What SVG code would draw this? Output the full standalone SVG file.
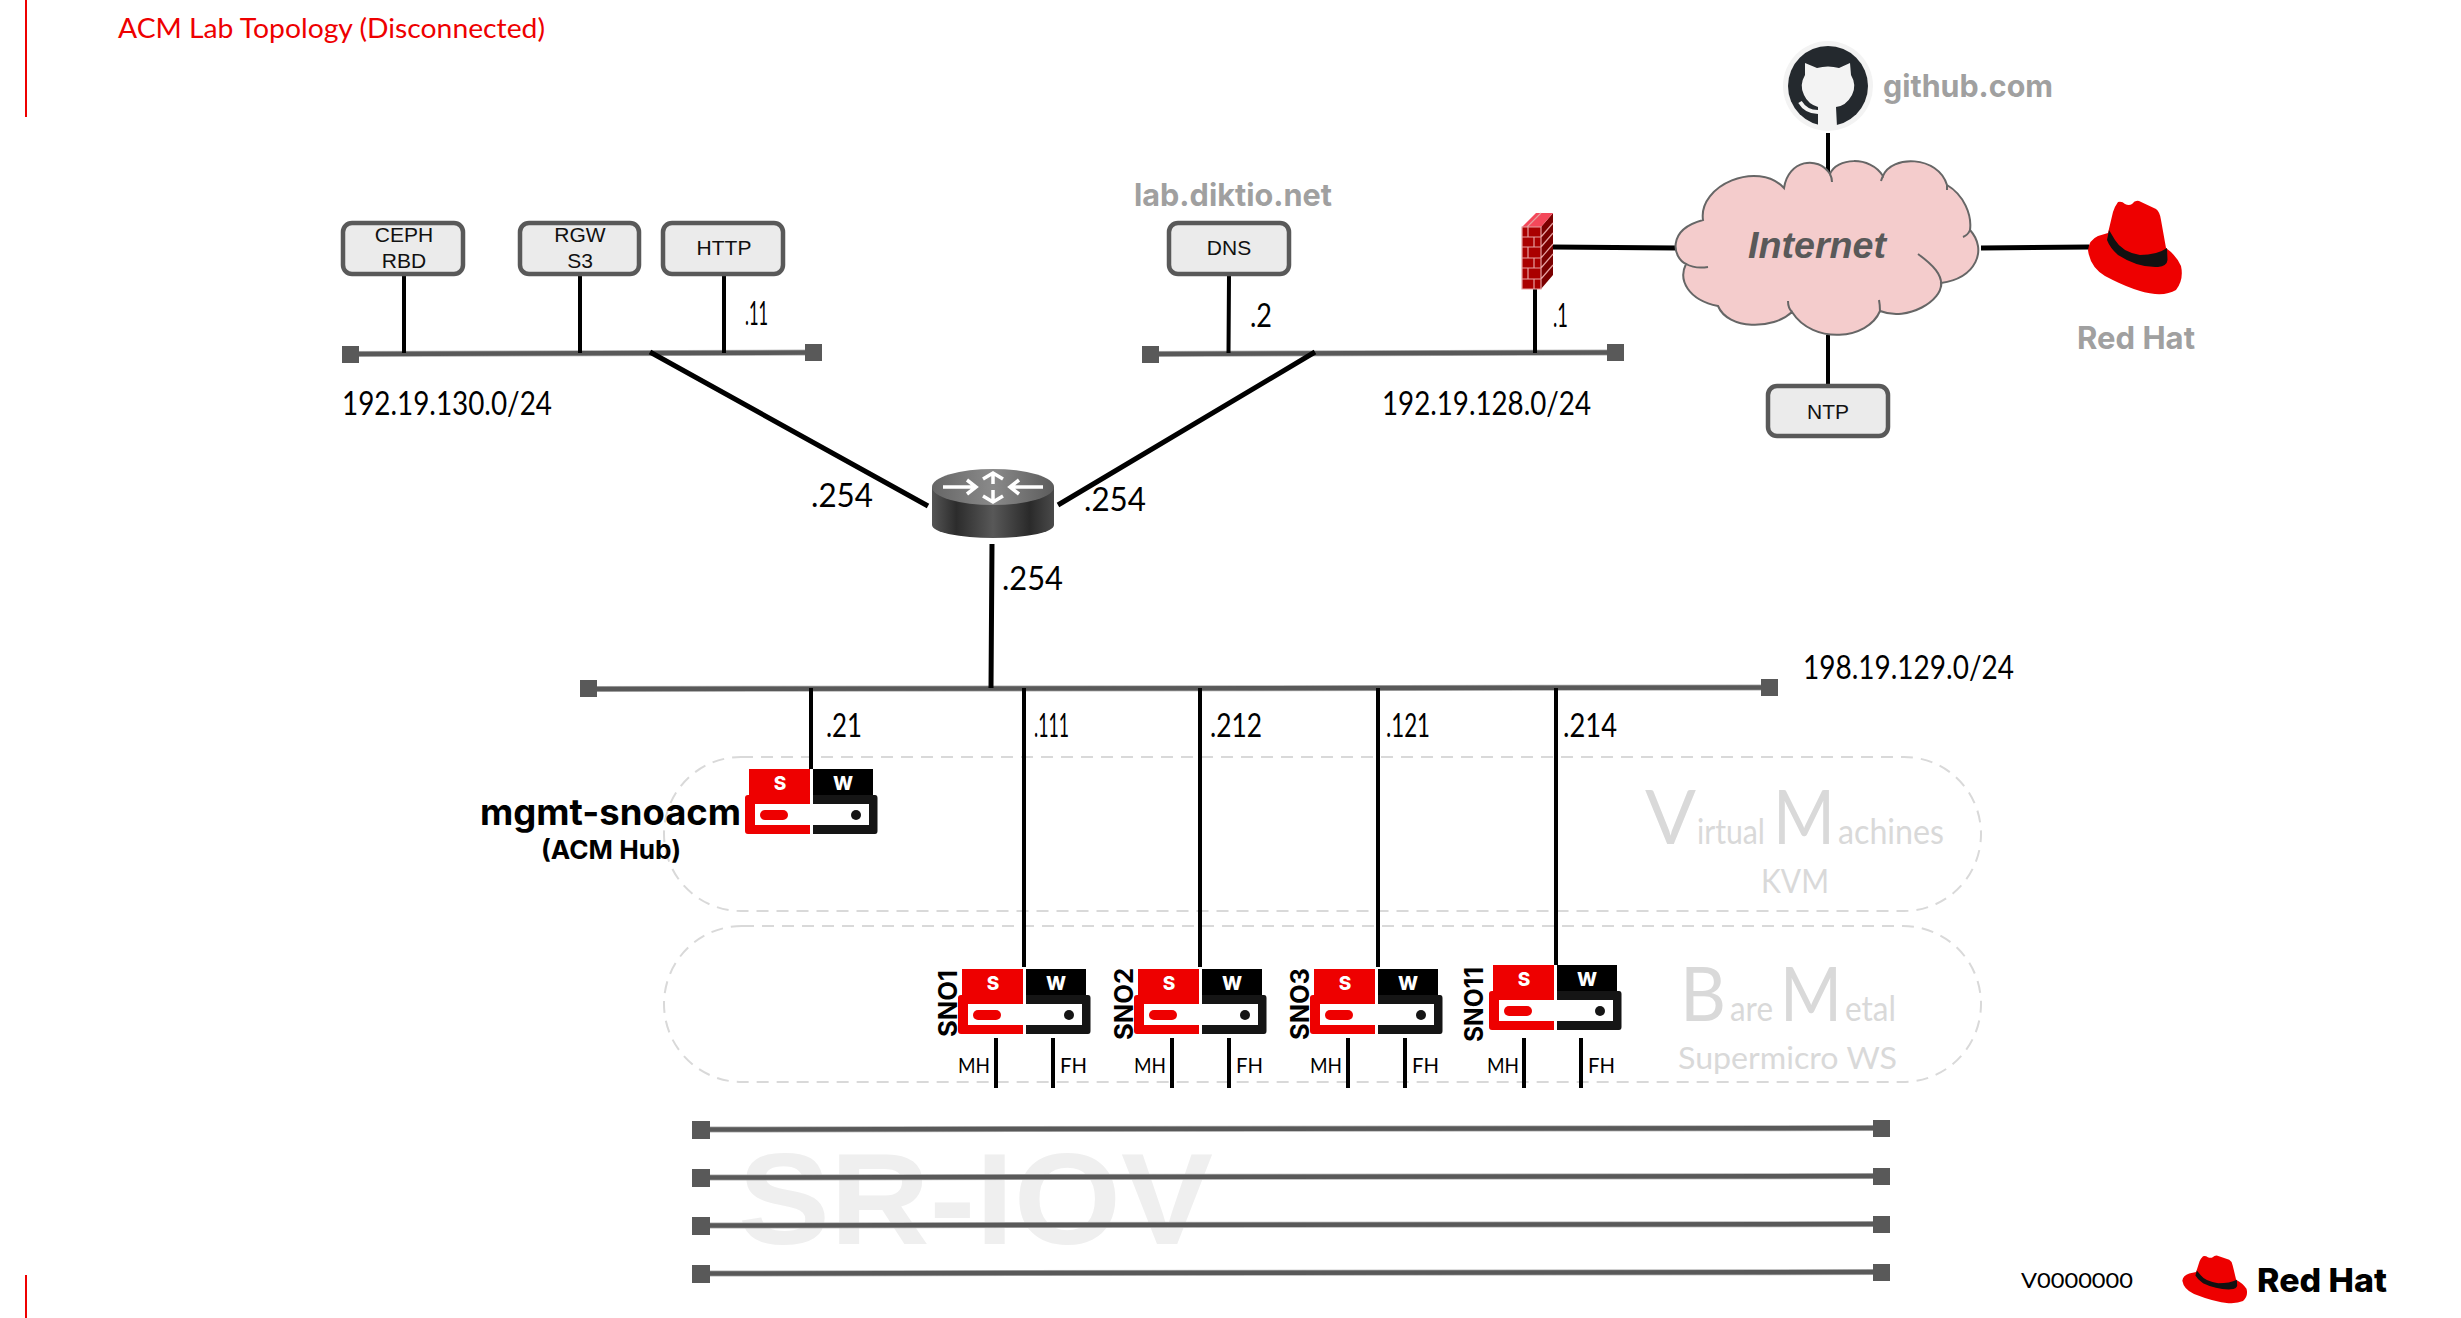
<svg xmlns="http://www.w3.org/2000/svg" xmlns:xlink="http://www.w3.org/1999/xlink" width="2461" height="1318" viewBox="0 0 2461 1318">
<style>
text{font-family:"Lato","Liberation Sans",sans-serif;fill:#000}
.box{fill:#ebebeb;stroke:#595959;stroke-width:4.5}
.bt{font-family:"Liberation Sans",Arial,sans-serif;font-size:21px;text-anchor:middle;fill:#111}
.link{stroke:#000;stroke-width:4;fill:none}
.thick{stroke:#000;stroke-width:5;fill:none}
.busu{stroke:#b0b0b0;stroke-width:6;fill:none}
.bus{stroke:#595959;stroke-width:4.5;fill:none}
.term{fill:#595959}
.ip{font-size:33px;font-weight:400;fill:#000}
.addr{font-size:32px;font-weight:400;fill:#000}
.gray{font-family:"Inter","Liberation Sans",sans-serif;font-weight:700;fill:#a0a0a0;font-size:31px}
.wm{fill:#d9d9d9;font-weight:400}
.zone{fill:none;stroke:#d9d9d9;stroke-width:2;stroke-dasharray:12 8}
.tab{font-family:"Inter","Liberation Sans",sans-serif;font-weight:800;font-size:19px;text-anchor:middle;fill:#fff}
.sno{font-family:"Inter","Liberation Sans",sans-serif;font-weight:700;font-size:25px;fill:#000}
.port{font-size:22px;font-weight:400;fill:#000}
.brick{stroke:#e6a0a0;stroke-width:1.2;fill:none}
</style>
<defs>
<linearGradient id="rb" x1="0" x2="1" y1="0" y2="0"><stop offset="0" stop-color="#555"/><stop offset=".2" stop-color="#2c2c2c"/><stop offset=".5" stop-color="#585858"/><stop offset=".8" stop-color="#2a2a2a"/><stop offset="1" stop-color="#4a4a4a"/></linearGradient>
<linearGradient id="rt" x1="0" x2="1" y1="0" y2="0"><stop offset="0" stop-color="#666"/><stop offset=".5" stop-color="#8a8a8a"/><stop offset="1" stop-color="#5c5c5c"/></linearGradient>
<g id="server">
<path d="M0 0H61V26H61V65H-1Q-4 65 -4 62V29Q-4 26 -1 26H0Z" fill="#ee0000"/>
<path d="M64 0H124V26H126Q128.500 26 128.500 29V62Q128.500 65 126 65H64Z" fill="#151515"/>
<rect x="64" y="0" width="60" height="26" fill="#000"/>
<rect x="6" y="35" width="114" height="21" fill="#fff"/>
<rect x="61" y="0" width="3" height="65" fill="#fff"/>
<rect x="11" y="41" width="28" height="10" rx="5" fill="#ee0000"/>
<circle cx="107" cy="46" r="5" fill="#151515"/>
<text class="tab" x="31" y="21">S</text>
<text class="tab" x="94" y="21">W</text>
</g>
<g id="hat">
<path d="M58 22Q62 21 65 24Q69 26 72 24Q75 20 79 21L96 29Q100 32 101 40L106 68Q116 75 121 86Q124 100 116 110Q108 115 95 114Q75 112 45 96Q30 87 28 70Q29 60 38 56L48 53L53 32Q55 26 58 22Z" fill="#ee0000"/>
<path d="M49 50L47 60Q50 68 58 75Q78 88 98 87Q107 86 107.500 80L107 68Q97 75 80 75Q62 72 55 60Z" fill="#111"/>
</g>
</defs>

<g id="frame">
<line x1="26" y1="0" x2="26" y2="117" stroke="#ee0000" stroke-width="2"/>
<line x1="26" y1="1275" x2="26" y2="1318" stroke="#ee0000" stroke-width="2"/>
<text x="118" y="38" font-size="27" style="fill:#ee0000" textLength="427" lengthAdjust="spacingAndGlyphs">ACM Lab Topology (Disconnected)</text>
<text id="watermark" x="738" y="1244" textLength="475" lengthAdjust="spacingAndGlyphs" style="font-family:'Liberation Sans',sans-serif;font-weight:700;font-size:129px;fill:#efefef">SR-IOV</text>
</g>

<g id="zones">
<rect id="zone-vm" class="zone" x="664" y="757" width="1317" height="154" rx="77"/>
<rect id="zone-bm" class="zone" x="664" y="926" width="1317" height="156" rx="78"/>
<text class="wm" x="1645" y="844" font-size="76" textLength="51" lengthAdjust="spacingAndGlyphs">V</text>
<text class="wm" x="1697" y="844" font-size="34" textLength="68" lengthAdjust="spacingAndGlyphs">irtual</text>
<text class="wm" x="1773" y="844" font-size="76" textLength="62" lengthAdjust="spacingAndGlyphs">M</text>
<text class="wm" x="1838" y="844" font-size="34" textLength="106" lengthAdjust="spacingAndGlyphs">achines</text>
<text class="wm" x="1761" y="893" font-size="32" textLength="68" lengthAdjust="spacingAndGlyphs">KVM</text>
<text class="wm" x="1680" y="1021" font-size="76" textLength="46" lengthAdjust="spacingAndGlyphs">B</text>
<text class="wm" x="1730" y="1021" font-size="34" textLength="43" lengthAdjust="spacingAndGlyphs">are</text>
<text class="wm" x="1780" y="1021" font-size="76" textLength="62" lengthAdjust="spacingAndGlyphs">M</text>
<text class="wm" x="1845" y="1021" font-size="34" textLength="51" lengthAdjust="spacingAndGlyphs">etal</text>
<text class="wm" x="1678" y="1069" font-size="31" textLength="219" lengthAdjust="spacingAndGlyphs">Supermicro WS</text>
</g>

<g id="connectors">
<g id="buses">
<path class="busu" d="M350 354L814 352.500M1150 354L1615 352.500M588 689L1769 687.500M701 1129.500L1882 1128M701 1177.500L1882 1176M701 1225.500L1882 1224M701 1273.500L1882 1272"/>
<path class="bus" d="M350 354L814 352.500M1150 354L1615 352.500M588 689L1769 687.500M701 1129.500L1882 1128M701 1177.500L1882 1176M701 1225.500L1882 1224M701 1273.500L1882 1272"/>
<rect class="term" x="342" y="346" width="17" height="17"/>
<rect class="term" x="805" y="344" width="17" height="17"/>
<rect class="term" x="1142" y="346" width="17" height="17"/>
<rect class="term" x="1607" y="344" width="17" height="17"/>
<rect class="term" x="580" y="680" width="17" height="17"/>
<rect class="term" x="1761" y="679" width="17" height="17"/>
<rect class="term" x="692" y="1121" width="18" height="18"/>
<rect class="term" x="692" y="1169" width="18" height="18"/>
<rect class="term" x="692" y="1217" width="18" height="18"/>
<rect class="term" x="692" y="1265" width="18" height="18"/>
<rect class="term" x="1873" y="1120" width="17" height="17"/>
<rect class="term" x="1873" y="1168" width="17" height="17"/>
<rect class="term" x="1873" y="1216" width="17" height="17"/>
<rect class="term" x="1873" y="1264" width="17" height="17"/>
</g>
<path class="link" d="M404 275V353M580 275V353M724 275V353M1229 275L1228.500 353M1535 289V353"/>
<path class="thick" d="M650 352L928 506M1315 352L1058 505M992 544L991 688"/>
<path class="link" d="M811 688V770M1024 688V967M1200 688V967M1378 688V967M1556 688V965"/>
<path class="link" d="M1828 133V175M1828 335V385"/>
<path class="thick" d="M1552 247L1677 248M1981 248L2089 247"/>
<path class="link" d="M996 1038V1088M1053 1038V1088M1172 1038V1088M1229 1038V1088M1348 1038V1088M1405 1038V1088M1524 1038V1088M1581 1038V1088"/>
</g>

<g id="node-ceph"><rect class="box" x="343" y="223" width="120" height="51" rx="9"/><text class="bt" x="404" y="242">CEPH</text><text class="bt" x="404" y="268">RBD</text></g>
<g id="node-rgw"><rect class="box" x="520" y="223" width="119" height="51" rx="9"/><text class="bt" x="580" y="242">RGW</text><text class="bt" x="580" y="268">S3</text></g>
<g id="node-http"><rect class="box" x="663" y="223" width="120" height="51" rx="9"/><text class="bt" x="724" y="255">HTTP</text></g>
<g id="node-dns"><rect class="box" x="1169" y="223" width="120" height="51" rx="9"/><text class="bt" x="1229" y="255">DNS</text><text class="gray" x="1134" y="206" textLength="198" lengthAdjust="spacingAndGlyphs">lab.diktio.net</text></g>
<g id="node-ntp"><rect class="box" x="1768" y="386" width="120" height="50" rx="9"/><text class="bt" x="1828" y="419">NTP</text></g>

<g id="node-firewall">
<path d="M1541 227H1522V289H1541Z" fill="#aa0000"/>
<path d="M1541 227L1553 213V275L1541 289Z" fill="#7a0000"/>
<path d="M1522 227L1536 213H1553L1541 227Z" fill="#f4485a"/>
<path class="brick" d="M1522 227H1541V289H1522ZM1522 237H1541M1522 247H1541M1522 258H1541M1522 268H1541M1522 279H1541M1528 227V237M1534 237V247M1528 247V258M1534 258V268M1528 268V279M1534 279V289M1541 237L1553 223M1541 247L1553 233M1541 258L1553 244M1541 268L1553 254M1541 279L1553 265M1527 227L1541 213"/>
</g>

<g id="node-internet">
<path d="M1830 174C1836 158 1870 155 1883 176C1891 155 1938 155 1947 185C1964 195 1972 215 1970 230C1988 250 1976 278 1941 283C1943 300 1908 322 1880 311C1868 340 1813 345 1792 312C1773 330 1728 330 1718 306C1688 300 1678 280 1686 264C1673 258 1666 230 1703 220C1698 185 1758 160 1784 188C1788 160 1818 155 1830 174Z" fill="#f4cccc" stroke="#666" stroke-width="2"/>
<path d="M1686 264Q1695 269 1708 267M1918 254C1933 265 1943 275 1941 287M1880 311Q1880 305 1879 300M1792 312Q1788 308 1788 301M1830 174Q1832 178 1832 182M1883 176Q1882 178 1881 181M1947 185L1947 190M1970 230Q1968 235 1963 237" fill="none" stroke="#666" stroke-width="2"/>
<text x="1748" y="258" font-size="37.500" style="font-family:'Liberation Sans',sans-serif;font-weight:700;font-style:italic;fill:#595959" textLength="138" lengthAdjust="spacingAndGlyphs">Internet</text>
</g>

<g id="node-github">
<circle cx="1828" cy="86" r="45" fill="#f3f3f3"/>
<circle cx="1828" cy="86" r="40" fill="#24292e"/>
<path d="M1805 63L1817 68Q1828 65 1839 68L1850 63L1851 75Q1857 85 1852 95Q1846 106 1836 107L1837 127Q1828 128 1818 127L1818 107Q1808 104 1804 95Q1799 85 1805 75Z" fill="#f3f3f3"/>
<path d="M1800 102Q1806 112 1818 112" fill="none" stroke="#f3f3f3" stroke-width="4"/>
<text class="gray" x="1883" y="97" textLength="170" lengthAdjust="spacingAndGlyphs">github.com</text>
</g>

<g id="node-redhat">
<use xlink:href="#hat" transform="translate(2060 180)"/>
<text class="gray" x="2077" y="349" textLength="118" lengthAdjust="spacingAndGlyphs">Red Hat</text>
</g>

<g id="node-router">
<path d="M932 487V525A61 13 0 0 0 1054 525V487Z" fill="url(#rb)"/>
<ellipse cx="993" cy="487" rx="61" ry="18" fill="url(#rt)"/>
<path d="M943 487H975M967 480L976 487L967 494M1043 487H1011M1019 480L1010 487L1019 494M993 484V473M983 479L993 473L1003 479M993 490V502M983 496L993 502L1003 496" fill="none" stroke="#fff" stroke-width="3.500"/>
</g>

<g id="labels">
<text class="addr" x="745" y="325" textLength="23" lengthAdjust="spacingAndGlyphs">.11</text>
<text class="addr" x="1250" y="327" textLength="22" lengthAdjust="spacingAndGlyphs">.2</text>
<text class="addr" x="1553" y="327" textLength="15" lengthAdjust="spacingAndGlyphs">.1</text>
<text class="ip" x="342" y="415" textLength="210" lengthAdjust="spacingAndGlyphs">192.19.130.0/24</text>
<text class="ip" x="1382" y="415" textLength="209" lengthAdjust="spacingAndGlyphs">192.19.128.0/24</text>
<text class="ip" x="1803" y="679" textLength="211" lengthAdjust="spacingAndGlyphs">198.19.129.0/24</text>
<text class="ip" x="811" y="507" textLength="62" lengthAdjust="spacingAndGlyphs">.254</text>
<text class="ip" x="1084" y="511" textLength="62" lengthAdjust="spacingAndGlyphs">.254</text>
<text class="ip" x="1002" y="590" textLength="61" lengthAdjust="spacingAndGlyphs">.254</text>
<text class="addr" x="826" y="737" textLength="36" lengthAdjust="spacingAndGlyphs">.21</text>
<text class="addr" x="1034" y="737" textLength="35" lengthAdjust="spacingAndGlyphs">.111</text>
<text class="addr" x="1210" y="737" textLength="52" lengthAdjust="spacingAndGlyphs">.212</text>
<text class="addr" x="1386" y="737" textLength="44" lengthAdjust="spacingAndGlyphs">.121</text>
<text class="addr" x="1563" y="737" textLength="54" lengthAdjust="spacingAndGlyphs">.214</text>
</g>

<g id="node-mgmt-snoacm">
<use xlink:href="#server" transform="translate(749 769)"/>
<text x="480" y="825" font-size="36" textLength="261" lengthAdjust="spacingAndGlyphs" style="font-family:'Inter','Liberation Sans',sans-serif;font-weight:700;fill:#000">mgmt-snoacm</text>
<text x="541" y="859" font-size="26" textLength="140" lengthAdjust="spacingAndGlyphs" style="font-family:'Inter','Liberation Sans',sans-serif;font-weight:700;fill:#000">(ACM Hub)</text>
</g>
<g id="node-sno1">
<use xlink:href="#server" transform="translate(962 969)"/>
<text class="sno" transform="translate(957 1037) rotate(-90)" textLength="67" lengthAdjust="spacingAndGlyphs">SNO1</text>
<text class="port" x="958" y="1073" textLength="32" lengthAdjust="spacingAndGlyphs">MH</text><text class="port" x="1060" y="1073" textLength="27" lengthAdjust="spacingAndGlyphs">FH</text>
</g>
<g id="node-sno2">
<use xlink:href="#server" transform="translate(1138 969)"/>
<text class="sno" transform="translate(1133 1040) rotate(-90)" textLength="72" lengthAdjust="spacingAndGlyphs">SNO2</text>
<text class="port" x="1134" y="1073" textLength="32" lengthAdjust="spacingAndGlyphs">MH</text><text class="port" x="1236" y="1073" textLength="27" lengthAdjust="spacingAndGlyphs">FH</text>
</g>
<g id="node-sno3">
<use xlink:href="#server" transform="translate(1314 969)"/>
<text class="sno" transform="translate(1309 1040) rotate(-90)" textLength="72" lengthAdjust="spacingAndGlyphs">SNO3</text>
<text class="port" x="1310" y="1073" textLength="32" lengthAdjust="spacingAndGlyphs">MH</text><text class="port" x="1412" y="1073" textLength="27" lengthAdjust="spacingAndGlyphs">FH</text>
</g>
<g id="node-sno11">
<use xlink:href="#server" transform="translate(1493 965)"/>
<text class="sno" transform="translate(1483 1042) rotate(-90)" textLength="75" lengthAdjust="spacingAndGlyphs">SNO11</text>
<text class="port" x="1487" y="1073" textLength="32" lengthAdjust="spacingAndGlyphs">MH</text><text class="port" x="1588" y="1073" textLength="27" lengthAdjust="spacingAndGlyphs">FH</text>
</g>

<g id="footer">
<text x="2021" y="1288" font-size="21" font-weight="400" textLength="112" lengthAdjust="spacingAndGlyphs">V0000000</text>
<use xlink:href="#hat" transform="translate(2163 1245) scale(.69 .51)"/>
<text x="2257" y="1292" font-size="33" textLength="130" lengthAdjust="spacingAndGlyphs" style="font-family:'Inter','Liberation Sans',sans-serif;font-weight:800;fill:#000">Red Hat</text>
</g>
</svg>
